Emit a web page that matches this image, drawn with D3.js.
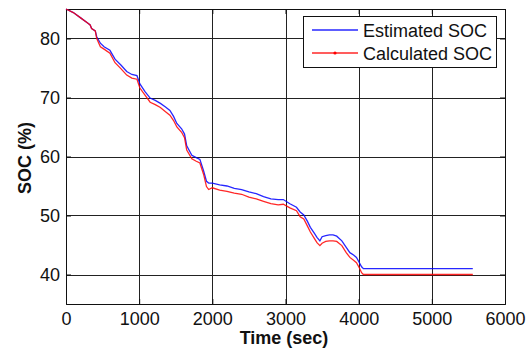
<!DOCTYPE html>
<html>
<head>
<meta charset="utf-8">
<script src="https://cdn.jsdelivr.net/npm/d3@7"></script>
<style>
  body { margin: 0; background: #fff; }
  text { font-family: Arial, 'Liberation Sans', sans-serif; fill: #111; }
</style>
</head>
<body>
<script>
'use strict';

const time = [0, 100, 200, 300, 330, 350, 400, 420, 470, 520, 600, 670, 750, 830, 900, 970,
  1010, 1080, 1150, 1220, 1290, 1360, 1420, 1470, 1515, 1580, 1620, 1650, 1720, 1780, 1830,
  1880, 1920, 1950, 2000, 2100, 2200, 2300, 2400, 2500, 2600, 2700, 2800, 2900, 2970, 3060,
  3150, 3200, 3250, 3300, 3340, 3400, 3430, 3470, 3500, 3550, 3600, 3650, 3700, 3770, 3830,
  3880, 3930, 3970, 4010, 4040, 4065, 4200, 4500, 5000, 5560];

const estimated = [85.0, 84.4, 83.5, 82.6, 82.3, 81.7, 81.3, 80.3, 79.2, 78.6, 78.0, 76.5,
  75.5, 74.4, 73.9, 73.7, 72.3, 71.0, 69.9, 69.5, 69.0, 68.4, 67.8, 66.8, 65.6, 64.7, 63.8,
  61.8, 60.2, 59.8, 59.5, 57.6, 55.8, 55.5, 55.5, 55.2, 55.0, 54.6, 54.4, 54.0, 53.7, 53.2,
  52.8, 52.7, 52.7, 52.0, 51.4, 50.6, 50.1, 49.0, 48.0, 46.9, 46.3, 45.7, 46.4, 46.6, 46.7,
  46.7, 46.5, 45.7, 44.6, 43.7, 43.3, 42.9, 42.0, 41.3, 41.0, 41.0, 41.0, 41.0, 41.0];

const calculated = [85.0, 84.4, 83.5, 82.6, 82.3, 81.7, 81.3, 80.0, 78.6, 78.2, 77.5, 75.9,
  74.9, 73.8, 73.3, 73.1, 71.6, 70.4, 69.2, 68.8, 68.3, 67.6, 67.0, 66.1, 65.0, 64.1, 63.2,
  61.1, 59.6, 59.2, 58.9, 57.0, 54.9, 54.4, 54.7, 54.3, 54.1, 53.8, 53.6, 53.1, 52.8, 52.4,
  52.0, 51.8, 51.9, 51.3, 50.8, 49.8, 49.4, 48.2, 47.2, 46.0, 45.4, 44.9, 45.3, 45.6, 45.7,
  45.7, 45.6, 44.9, 43.7, 42.9, 42.4, 42.0, 41.1, 40.3, 40.0, 40.0, 40.0, 40.0, 40.0];

const xTicks = [0, 1000, 2000, 3000, 4000, 5000, 6000];
const yTicks = [40, 50, 60, 70, 80];
const seriesNames = ['Estimated SOC', 'Calculated SOC'];
const seriesColors = ['#0000ff', '#ff0000'];

const W = 531, H = 352;
const plot = { left: 66, right: 505, top: 9, bottom: 304 };

const x = d3.scaleLinear().domain([0, 6000]).range([plot.left, plot.right]);
const y = d3.scaleLinear().domain([35, 85]).range([plot.bottom, plot.top]);

const svg = d3.select('body').append('svg')
  .attr('width', W).attr('height', H)
  .attr('viewBox', `0 0 ${W} ${H}`);

// grid
const grid = svg.append('g').attr('stroke', '#222').attr('stroke-width', 1).attr('shape-rendering', 'crispEdges');
grid.selectAll('.gx').data(xTicks.slice(1, -1)).join('line')
  .attr('x1', d => Math.round(x(d)) + 0.5).attr('x2', d => Math.round(x(d)) + 0.5)
  .attr('y1', plot.top).attr('y2', plot.bottom);
grid.selectAll('.gy').data(yTicks).join('line')
  .attr('y1', d => Math.round(y(d)) + 0.5).attr('y2', d => Math.round(y(d)) + 0.5)
  .attr('x1', plot.left).attr('x2', plot.right);

// axes (ticks point inward, box all round)
const tickLen = -5;
svg.append('g').attr('transform', `translate(0,${plot.bottom})`)
  .call(d3.axisBottom(x).tickValues(xTicks).tickSize(tickLen).tickPadding(8).tickFormat(d3.format('d')));
svg.append('g').attr('transform', `translate(0,${plot.top})`)
  .call(d3.axisTop(x).tickValues(xTicks).tickSize(tickLen).tickFormat(''));
svg.append('g').attr('transform', `translate(${plot.left},0)`)
  .call(d3.axisLeft(y).tickValues(yTicks).tickSize(tickLen).tickPadding(6));
svg.append('g').attr('transform', `translate(${plot.right},0)`)
  .call(d3.axisRight(y).tickValues(yTicks).tickSize(tickLen).tickFormat(''));

svg.selectAll('.domain').attr('stroke', '#111').attr('stroke-width', 1);
svg.selectAll('.tick line').attr('stroke', '#111');
svg.selectAll('.tick text').attr('font-size', 18).attr('fill', '#111')
  .attr('font-family', "Arial, 'Liberation Sans', sans-serif");

// series
const rows = [estimated, calculated];
const line = d3.line().x((d, i) => x(time[i])).y(d => y(d));
rows.forEach((vals, k) => {
  svg.append('path')
    .datum(vals)
    .attr('fill', 'none')
    .attr('stroke', seriesColors[k])
    .attr('stroke-width', 1.3)
    .attr('stroke-opacity', 0.85)
    .attr('d', line);
});

// axis labels
svg.append('text')
  .attr('x', 284).attr('y', 344)
  .attr('text-anchor', 'middle')
  .attr('font-size', 18).attr('font-weight', 'bold')
  .text('Time (sec)');
svg.append('text')
  .attr('transform', 'translate(31,158) rotate(-90)')
  .attr('text-anchor', 'middle')
  .attr('font-size', 18).attr('font-weight', 'bold')
  .text('SOC (%)');

// legend
const lg = svg.append('g');
lg.append('rect')
  .attr('x', 303.5).attr('y', 16.5)
  .attr('width', 193).attr('height', 51)
  .attr('fill', '#fff').attr('stroke', '#111');
seriesNames.forEach((name, k) => {
  const ly = 30 + k * 23;
  lg.append('line')
    .attr('x1', 312).attr('x2', 358).attr('y1', ly).attr('y2', ly)
    .attr('stroke', seriesColors[k]).attr('stroke-width', 1.3).attr('stroke-opacity', 0.85);
  if (k === 1) {
    lg.append('circle').attr('cx', 335).attr('cy', ly).attr('r', 1.6).attr('fill', seriesColors[k]);
  }
  lg.append('text')
    .attr('x', 363).attr('y', ly + 6.5)
    .attr('font-size', 18)
    .text(name);
});
</script>
</body>
</html>
